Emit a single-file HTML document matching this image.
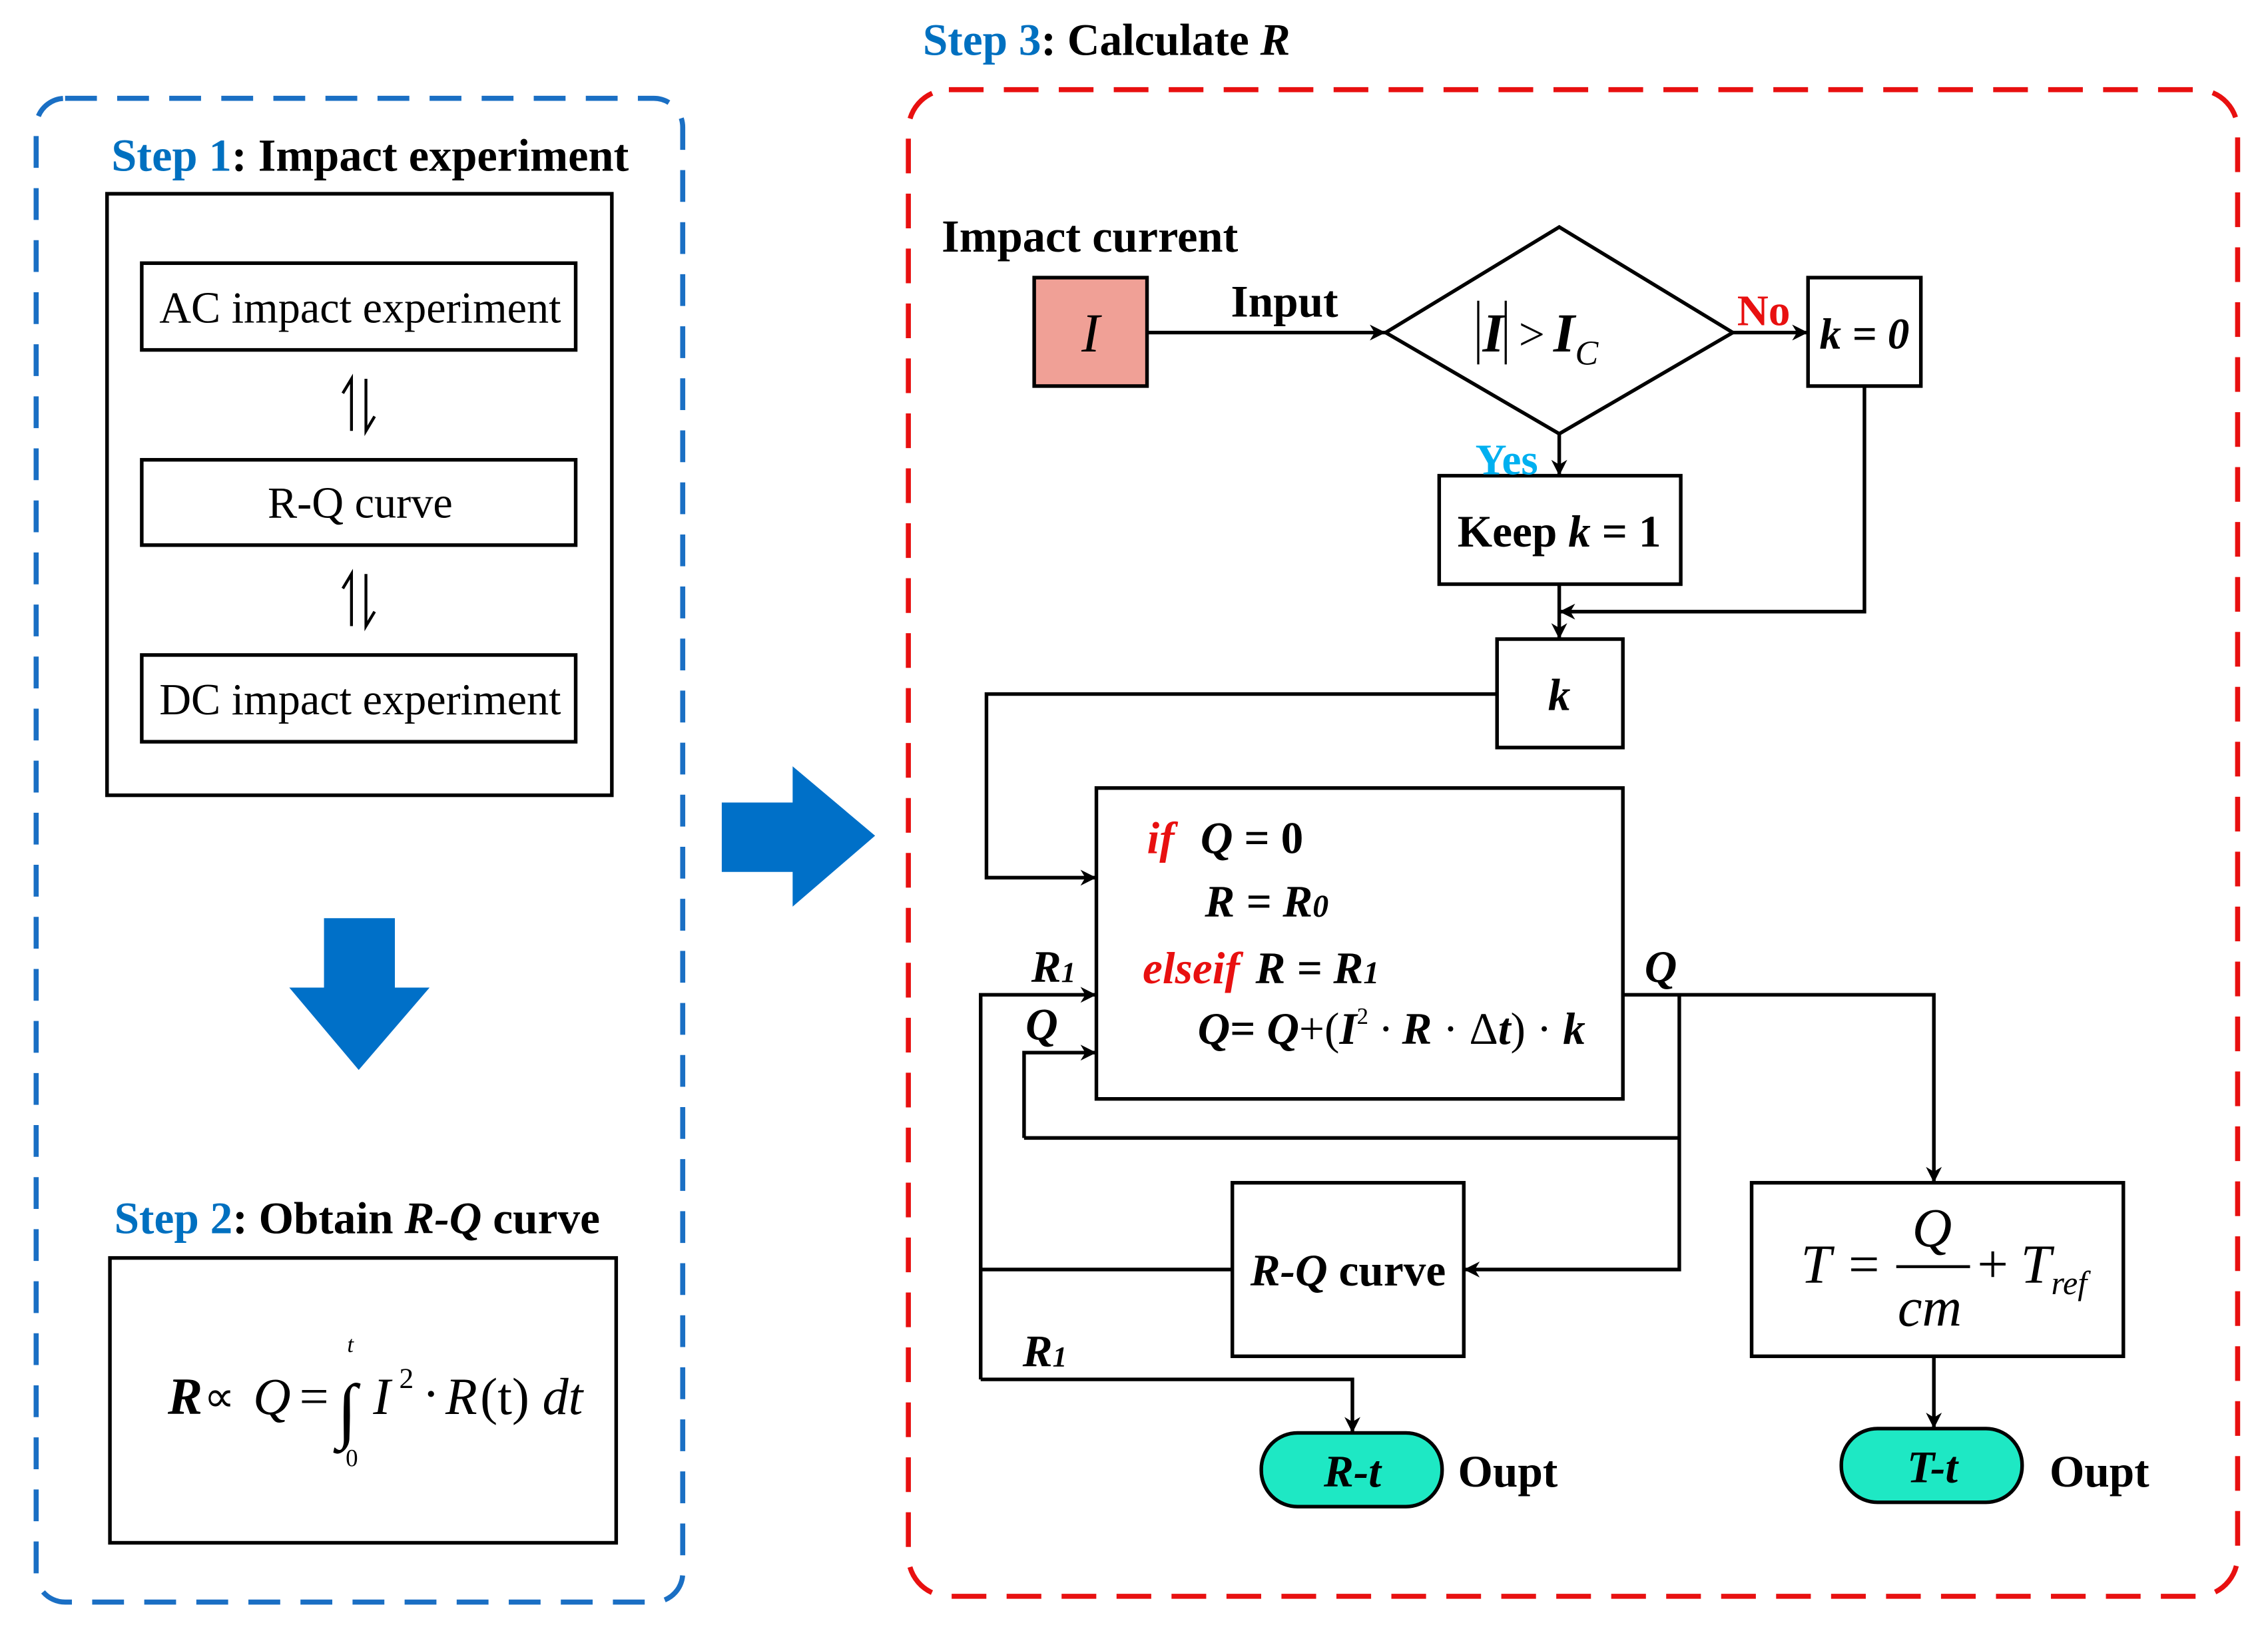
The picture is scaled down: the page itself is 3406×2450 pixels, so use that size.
<!DOCTYPE html>
<html><head><meta charset="utf-8"><style>html,body{margin:0;padding:0;background:#fff}svg{display:block}</style></head>
<body>
<svg xmlns="http://www.w3.org/2000/svg" width="3406" height="2450" viewBox="0 0 1568 1128" preserveAspectRatio="none" font-family="'Liberation Serif', serif">
<defs>
<marker id="b" viewBox="0 0 10 10" refX="10" refY="5" markerWidth="11" markerHeight="11" orient="auto" markerUnits="userSpaceOnUse">
<path d="M0,0 L10,5 L0,10 L3,5 Z" fill="#000"/></marker>
</defs>
<rect width="1568" height="1128" fill="#fff"/>
<!-- Left panel -->
<rect x="25" y="68" width="447" height="1040" rx="20" fill="none" stroke="#1a6fc4" stroke-width="3.5" stroke-dasharray="22 14"/>
<text x="77" y="118" font-size="31.5" font-weight="bold"><tspan fill="#0070c0">Step 1</tspan>: Impact experiment</text>
<g fill="none" stroke="#000" stroke-width="2.5">
<rect x="74" y="134" width="349" height="416"/>
<rect x="98" y="182" width="300" height="60"/>
<rect x="98" y="318" width="300" height="59"/>
<rect x="98" y="453" width="300" height="60"/>
<rect x="76" y="870" width="350" height="197"/>
</g>
<g font-size="30.5" text-anchor="middle">
<text x="249" y="223">AC impact experiment</text>
<text x="249" y="358">R-Q curve</text>
<text x="249" y="494">DC impact experiment</text>
</g>
<g stroke="#000" stroke-width="2" fill="none">
<path d="M243,298 V262 L237,272"/><path d="M253,262 V298 L259,288"/>
<path d="M243,433 V397 L237,407"/><path d="M253,397 V433 L259,423"/>
</g>
<path d="M224,635 H273 V683 H297 L248,740 L200,683 H224 Z" fill="#0070c8"/>
<text x="79" y="853" font-size="31" font-weight="bold"><tspan fill="#0070c0">Step 2</tspan>: Obtain <tspan font-style="italic">R-Q</tspan> curve</text>
<g font-size="36" font-style="italic">
<text x="116" y="978" font-weight="bold">R</text>
<text x="141" y="976" font-style="normal" font-size="30">∝</text>
<text x="175" y="978">Q</text>
<text x="207" y="978" font-style="normal">=</text>
<text x="233" y="992" font-size="50">∫</text>
<text x="240" y="935" font-size="16">t</text>
<text x="239" y="1014" font-size="17" font-style="normal">0</text>
<text x="258" y="978">I</text>
<text x="276" y="960" font-size="20" font-style="normal">2</text>
<text x="292" y="976" font-style="normal">·</text>
<text x="308" y="978">R</text>
<text x="332" y="978" font-style="normal">(t)</text>
<text x="375" y="978">dt</text>
</g>
<path d="M499,555 H548 V530 L605,578 L548,627 V603 H499 Z" fill="#0070c8"/>
<!-- Right panel -->
<rect x="628" y="62" width="919" height="1042" rx="28" fill="none" stroke="#e81010" stroke-width="3.5" stroke-dasharray="24 14"/>
<text x="638" y="38" font-size="31" font-weight="bold"><tspan fill="#0070c0">Step 3</tspan>: Calculate <tspan font-style="italic">R</tspan></text>
<text x="651" y="174" font-size="31.5" font-weight="bold">Impact current</text>
<rect x="715" y="192" width="78" height="75" fill="#f0a096" stroke="#000" stroke-width="2.5"/>
<text x="754" y="243" font-size="38" font-style="italic" text-anchor="middle">I</text>
<text x="851" y="219" font-size="31" font-weight="bold">Input</text>
<g fill="none" stroke="#000" stroke-width="2.5">
<path d="M958,230 L1078,157 L1198,230 L1078,300 Z"/>
<rect x="1250" y="192" width="78" height="75"/>
<rect x="995" y="329" width="167" height="75"/>
<rect x="1035" y="442" width="87" height="75"/>
<rect x="758" y="545" width="364" height="215"/>
<rect x="852" y="818" width="160" height="120"/>
<rect x="1211" y="818" width="257" height="120"/>
</g>
<g fill="none" stroke="#000" stroke-width="2.5" marker-end="url(#b)">
<path d="M793,230 H958"/>
<path d="M1198,230 H1250"/>
<path d="M1078,300 V329"/>
<path d="M1078,404 V442"/>
<path d="M1289,267 V423 H1078"/>
<path d="M1035,480 H682 V607 H758"/>
<path d="M678,954 V688 H758"/>
<path d="M678,954 H935 V991"/>
<path d="M708,787 V728 H758"/>
<path d="M1122,688 H1337 V818"/>
<path d="M1161,688 V878 H1012"/>
<path d="M1337,938 V988"/>
</g>
<g fill="none" stroke="#000" stroke-width="2.5">
<path d="M708,787 H1161"/>
<path d="M852,878 H678"/>
</g>
<line x1="1022" y1="208" x2="1022" y2="252" stroke="#000" stroke-width="1.5"/>
<line x1="1041" y1="208" x2="1041" y2="252" stroke="#000" stroke-width="1.5"/>
<text x="1025" y="243" font-size="38" font-style="italic" font-weight="bold">I</text>
<text x="1050" y="242" font-size="32">&gt;</text>
<text x="1074" y="243" font-size="38" font-style="italic" font-weight="bold">I</text>
<text x="1089" y="252" font-size="24" font-style="italic">C</text>
<text x="1201" y="225" font-size="30" font-weight="bold" fill="#e81010">No</text>
<text x="1020" y="328" font-size="30" font-weight="bold" fill="#00b0f0">Yes</text>
<text x="1289" y="241" font-size="30" font-weight="bold" font-style="italic" text-anchor="middle">k = 0</text>
<text x="1078" y="378" font-size="31" font-weight="bold" text-anchor="middle">Keep <tspan font-style="italic">k</tspan> = 1</text>
<text x="1078" y="491" font-size="31" font-weight="bold" font-style="italic" text-anchor="middle">k</text>
<g font-size="31" font-weight="bold" font-style="italic">
<text x="793" y="590" fill="#e81010">if</text>
<text x="830" y="590">Q<tspan font-style="normal"> = 0</tspan></text>
<text x="833" y="634">R = R<tspan font-size="22">0</tspan></text>
<text x="790" y="680" fill="#e81010">elseif</text>
<text x="868" y="680">R = R<tspan font-size="22">1</tspan></text>
<text x="828" y="722">Q<tspan font-style="normal">= </tspan>Q<tspan font-style="normal" font-weight="normal">+(</tspan>I<tspan font-size="16" dy="-14" font-style="normal" font-weight="normal">2</tspan><tspan dy="14" font-weight="normal"> · </tspan>R<tspan font-weight="normal" font-style="normal"> · Δ</tspan>t<tspan font-weight="normal" font-style="normal">) · </tspan>k</text>
<text x="713" y="679">R<tspan font-size="20">1</tspan></text>
<text x="709" y="719">Q</text>
<text x="1137" y="679">Q</text>
<text x="707" y="945">R<tspan font-size="20">1</tspan></text>
</g>
<text x="932" y="889" font-size="31" font-weight="bold" text-anchor="middle"><tspan font-style="italic">R-Q</tspan> curve</text>
<g font-size="38" font-style="italic">
<text x="1245" y="887">T</text>
<text x="1278" y="887" font-style="normal">=</text>
<text x="1322" y="862">Q</text>
<line x1="1311" y1="876" x2="1362" y2="876" stroke="#000" stroke-width="2"/>
<text x="1312" y="917">cm</text>
<text x="1367" y="887" font-style="normal">+</text>
<text x="1397" y="887">T<tspan font-size="23" dy="8">ref</tspan></text>
</g>
<rect x="872" y="991" width="125" height="51" rx="25" fill="#1ee8c4" stroke="#000" stroke-width="2.5"/>
<rect x="1273" y="988" width="125" height="51" rx="25" fill="#1ee8c4" stroke="#000" stroke-width="2.5"/>
<text x="935" y="1028" font-size="31" font-weight="bold" font-style="italic" text-anchor="middle">R-t</text>
<text x="1336" y="1025" font-size="31" font-weight="bold" font-style="italic" text-anchor="middle">T-t</text>
<text x="1008" y="1028" font-size="31" font-weight="bold">Oupt</text>
<text x="1417" y="1028" font-size="31" font-weight="bold">Oupt</text>
</svg>
</body></html>
